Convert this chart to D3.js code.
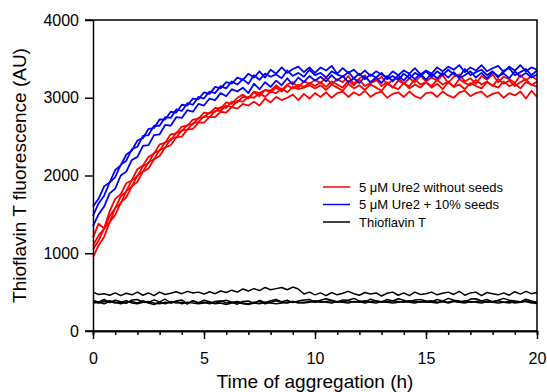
<!DOCTYPE html>
<html>
<head>
<meta charset="utf-8">
<script src="https://cdn.jsdelivr.net/npm/d3@7"></script>
<style>
  body { margin: 0; background: #fff; }
  text { font-family: Arial, "Liberation Sans", sans-serif; }
</style>
</head>
<body>
<div id="chart"></div>
<script>
/* sampling grid: one reading every 15 min over 20 h */
const timeStep = 0.25;
const hours = d3.range(0, 20 + timeStep / 2, timeStep);

/* 5 uM Ure2 without seeds (4 replicates) */
const red1 = [1200, 1380, 1320, 1540, 1700, 1760, 1900, 1940, 2080, 2130, 2240, 2280, 2400, 2420, 2530, 2540, 2630, 2640, 2720, 2730, 2810,
  2800, 2870, 2860, 2940, 2920, 3000, 3040, 2990, 3080, 3060, 3100, 3090, 3160, 3100, 3170, 3200, 3130, 3210, 3180, 3230,
  3190, 3260, 3170, 3240, 3200, 3280, 3180, 3250, 3290, 3190, 3220, 3270, 3170, 3230, 3260, 3180, 3250, 3200, 3280, 3210,
  3260, 3220, 3290, 3190, 3270, 3300, 3210, 3250, 3180, 3280, 3230, 3300, 3200, 3270, 3240, 3190, 3290, 3220, 3280, 3230];
const red2 = [1100, 1230, 1310, 1480, 1580, 1730, 1800, 1940, 1990, 2120, 2160, 2290, 2320, 2430, 2450, 2550, 2570, 2650, 2660, 2740, 2750,
  2810, 2820, 2880, 2870, 2950, 2940, 3010, 3000, 3070, 3020, 3100, 3070, 3130, 3080, 3160, 3120, 3170, 3140, 3190, 3150,
  3200, 3140, 3210, 3170, 3130, 3220, 3160, 3230, 3150, 3190, 3240, 3150, 3200, 3130, 3220, 3180, 3150, 3240, 3170, 3200,
  3150, 3230, 3170, 3210, 3140, 3240, 3190, 3160, 3230, 3170, 3210, 3150, 3240, 3180, 3220, 3150, 3200, 3240, 3160, 3210];
const red3 = [1050, 1160, 1320, 1400, 1580, 1640, 1800, 1860, 2000, 2050, 2170, 2210, 2330, 2360, 2470, 2490, 2580, 2590, 2670, 2690, 2760,
  2750, 2830, 2830, 2900, 2880, 2960, 2950, 3010, 3000, 3060, 3010, 3080, 3060, 3120, 3070, 3140, 3110, 3130, 3160, 3120,
  3160, 3100, 3170, 3130, 3090, 3180, 3120, 3160, 3100, 3170, 3130, 3090, 3180, 3140, 3110, 3190, 3120, 3170, 3130, 3200,
  3130, 3180, 3110, 3200, 3140, 3170, 3110, 3190, 3150, 3120, 3200, 3160, 3130, 3210, 3150, 3180, 3120, 3200, 3170, 3140];
const red4 = [950, 1100, 1210, 1400, 1490, 1650, 1720, 1860, 1920, 2050, 2090, 2210, 2250, 2360, 2390, 2490, 2500, 2590, 2600, 2680, 2680,
  2750, 2750, 2820, 2810, 2880, 2860, 2920, 2900, 2950, 2900, 2990, 2940, 3010, 2970, 3000, 3040, 2970, 3050, 2990, 3060,
  3010, 3070, 3000, 3060, 3080, 3010, 3070, 3030, 3090, 3010, 3060, 3080, 3000, 3050, 3070, 3010, 3080, 3020, 2990, 3060,
  3070, 3010, 3080, 3030, 3000, 3070, 3090, 3020, 3060, 3080, 3010, 3050, 3070, 3000, 3060, 3030, 3080, 2990, 3090, 3010];

/* 5 uM Ure2 + 10% seeds (3 replicates) */
const blue1 = [1600, 1700, 1860, 1910, 2070, 2130, 2270, 2320, 2450, 2480, 2600, 2610, 2720, 2720, 2820, 2810, 2910, 2900, 2990, 2980, 3070,
  3050, 3140, 3120, 3200, 3180, 3260, 3230, 3310, 3260, 3340, 3260, 3360, 3310, 3390, 3320, 3370, 3400, 3330, 3390, 3320,
  3390, 3350, 3410, 3310, 3380, 3320, 3360, 3290, 3350, 3280, 3340, 3300, 3260, 3340, 3290, 3350, 3310, 3380, 3300, 3350,
  3310, 3390, 3340, 3400, 3360, 3420, 3330, 3390, 3350, 3420, 3340, 3380, 3410, 3330, 3400, 3350, 3420, 3340, 3390, 3360];
const blue2 = [1480, 1640, 1740, 1910, 1980, 2140, 2190, 2340, 2370, 2510, 2520, 2640, 2640, 2750, 2740, 2850, 2830, 2930, 2910, 3010, 2990,
  3080, 3060, 3150, 3120, 3210, 3170, 3240, 3180, 3290, 3230, 3310, 3270, 3300, 3250, 3350, 3280, 3320, 3270, 3360, 3290,
  3320, 3260, 3340, 3300, 3270, 3330, 3250, 3310, 3240, 3300, 3260, 3320, 3240, 3280, 3230, 3310, 3250, 3320, 3280, 3340,
  3270, 3340, 3290, 3360, 3300, 3270, 3370, 3290, 3330, 3360, 3290, 3340, 3260, 3350, 3380, 3290, 3330, 3370, 3290, 3350];
const blue3 = [1350, 1500, 1600, 1770, 1830, 2000, 2050, 2200, 2240, 2380, 2390, 2520, 2530, 2650, 2640, 2750, 2740, 2840, 2820, 2920, 2900,
  2990, 2970, 3060, 3020, 3110, 3080, 3130, 3060, 3180, 3110, 3200, 3140, 3220, 3160, 3250, 3170, 3260, 3200, 3280, 3220,
  3270, 3210, 3290, 3220, 3280, 3200, 3250, 3190, 3270, 3200, 3260, 3190, 3280, 3210, 3290, 3220, 3300, 3240, 3310, 3230,
  3310, 3250, 3320, 3260, 3330, 3250, 3290, 3340, 3260, 3320, 3250, 3330, 3280, 3310, 3250, 3340, 3270, 3320, 3260, 3300];

/* Thioflavin T alone (4 replicates) */
const black1 = [500, 470, 480, 460, 490, 455, 485, 465, 500, 460, 490, 455, 500, 470, 485, 505, 480, 510, 490, 500, 475,
  505, 480, 515, 495, 525, 500, 540, 515, 545, 520, 560, 530, 545, 560, 530, 565, 540, 475, 500, 465,
  490, 455, 495, 465, 485, 510, 480, 460, 495, 475, 490, 450, 485, 500, 460, 490, 455, 500, 470, 480,
  500, 465, 485, 500, 470, 510, 460, 490, 500, 455, 495, 480, 465, 490, 460, 505, 475, 510, 480, 495];
const black2 = [395, 370, 405, 365, 395, 375, 355, 400, 405, 370, 365, 400, 375, 410, 360, 385, 400, 350, 390, 365, 395,
  375, 355, 380, 395, 370, 345, 380, 385, 355, 395, 365, 390, 405, 375, 395, 365, 385, 400, 405, 375,
  395, 415, 395, 375, 400, 395, 420, 385, 375, 410, 385, 375, 405, 385, 415, 395, 375, 400, 405, 385,
  375, 405, 385, 420, 395, 385, 370, 410, 415, 385, 405, 375, 395, 420, 395, 385, 375, 410, 385, 370];
const black3 = [360, 370, 350, 380, 360, 370, 390, 360, 350, 370, 380, 360, 350, 370, 360, 380, 350, 370, 360, 350, 360,
  370, 350, 360, 340, 360, 370, 350, 340, 360, 350, 370, 360, 350, 360, 370, 380, 360, 370, 380, 370,
  380, 370, 360, 380, 370, 360, 380, 370, 390, 370, 360, 380, 370, 360, 370, 380, 370, 360, 380, 370,
  370, 360, 380, 370, 390, 370, 360, 380, 370, 360, 380, 370, 360, 370, 380, 360, 370, 380, 360, 370];
const black4 = [380, 360, 380, 390, 370, 350, 370, 380, 360, 390, 360, 340, 370, 350, 380, 360, 370, 350, 390, 360, 370,
  350, 380, 390, 360, 370, 380, 360, 350, 370, 380, 350, 370, 390, 370, 360, 380, 370, 360, 370, 390,
  370, 380, 390, 370, 380, 390, 370, 380, 360, 380, 390, 370, 380, 390, 380, 370, 390, 380, 370, 380,
  390, 370, 380, 360, 380, 370, 390, 370, 380, 390, 370, 380, 390, 370, 360, 380, 370, 390, 370, 350];

const legendLabels = ["5 \u03bcM Ure2 without seeds", "5 \u03bcM Ure2 + 10% seeds", "Thioflavin T"];
const colors = ["#ff0000", "#0000ff", "#000000"];
const yTicks = [0, 1000, 2000, 3000, 4000];
const xTicks = [0, 5, 10, 15, 20];

/* drawing order: black first, blue on top */
const groups = [
  { color: colors[2], width: 1.5, runs: [black1, black2, black3, black4] },
  { color: colors[0], width: 1.8, runs: [red1, red2, red3, red4] },
  { color: colors[1], width: 1.8, runs: [blue1, blue2, blue3] }
];

const width = 547, height = 392;
const plotLeft = 93, plotRight = 537, plotTop = 20, plotBottom = 331;

const svg = d3.select("#chart").append("svg")
  .attr("width", width)
  .attr("height", height);

const x = d3.scaleLinear().domain([0, 20]).range([plotLeft, plotRight]);
const y = d3.scaleLinear().domain([0, 4000]).range([plotBottom, plotTop]);

const line = d3.line()
  .x((d, i) => x(hours[i]))
  .y(d => y(d));

/* Lines */
groups.forEach(g => {
  svg.append("g")
    .selectAll("path")
    .data(g.runs).enter()
    .append("path")
    .attr("d", d => line(d))
    .style("fill", "none")
    .style("stroke", g.color)
    .style("stroke-width", g.width)
    .style("stroke-linejoin", "round");
});

/* Frame (top and right) */
svg.append("path")
  .attr("d", `M${plotLeft - 8},${plotTop}H${plotRight}V${plotBottom}`)
  .style("fill", "none")
  .style("stroke", "#000")
  .style("stroke-width", 1.5);

/* Axes */
const yAxis = d3.axisLeft(y).tickValues(yTicks).tickFormat(d3.format("d"))
  .tickSizeInner(8).tickSizeOuter(0).tickPadding(6);
const xMinor = d3.axisBottom(x).ticks(20).tickSize(4).tickFormat("");
const xAxis = d3.axisBottom(x).tickValues(xTicks).tickSizeInner(8).tickSizeOuter(0).tickPadding(14);

svg.append("g")
  .attr("class", "y axis")
  .attr("transform", `translate(${plotLeft},0)`)
  .call(yAxis);

svg.append("g")
  .attr("class", "x minor")
  .attr("transform", `translate(0,${plotBottom})`)
  .call(xMinor);

svg.append("g")
  .attr("class", "x axis")
  .attr("transform", `translate(0,${plotBottom})`)
  .call(xAxis);

/* extend bottom axis line left past the 0 tick */
svg.append("line")
  .attr("x1", plotLeft - 8).attr("x2", plotRight)
  .attr("y1", plotBottom).attr("y2", plotBottom)
  .style("stroke", "#000").style("stroke-width", 1.5);

svg.selectAll(".axis path, .minor path").style("stroke", "#000").style("stroke-width", 1.5);
svg.selectAll(".axis line, .minor line").style("stroke", "#000").style("stroke-width", 1.5);
svg.selectAll(".axis text")
  .style("font-family", "Arial, 'Liberation Sans', sans-serif")
  .style("font-size", "16px")
  .style("fill", "#000");

/* Axis titles */
svg.append("text")
  .attr("x", (plotLeft + plotRight) / 2)
  .attr("y", 388)
  .attr("text-anchor", "middle")
  .style("font-size", "19px")
  .text("Time of aggregation (h)");

svg.append("text")
  .attr("transform", `translate(26,${(plotTop + plotBottom) / 2}) rotate(-90)`)
  .attr("text-anchor", "middle")
  .style("font-size", "19px")
  .text("Thioflavin T fluorescence (AU)");

/* Legend */
const legend = svg.append("g").attr("transform", "translate(323,187)");
legendLabels.forEach((label, i) => {
  const row = legend.append("g").attr("transform", `translate(0,${i * 17.5})`);
  row.append("line")
    .attr("x1", 0).attr("x2", 27)
    .style("stroke", colors[i]).style("stroke-width", 1.5);
  row.append("text")
    .attr("x", 36).attr("y", 4.5)
    .style("font-size", "13px")
    .text(label);
});
</script>
</body>
</html>
